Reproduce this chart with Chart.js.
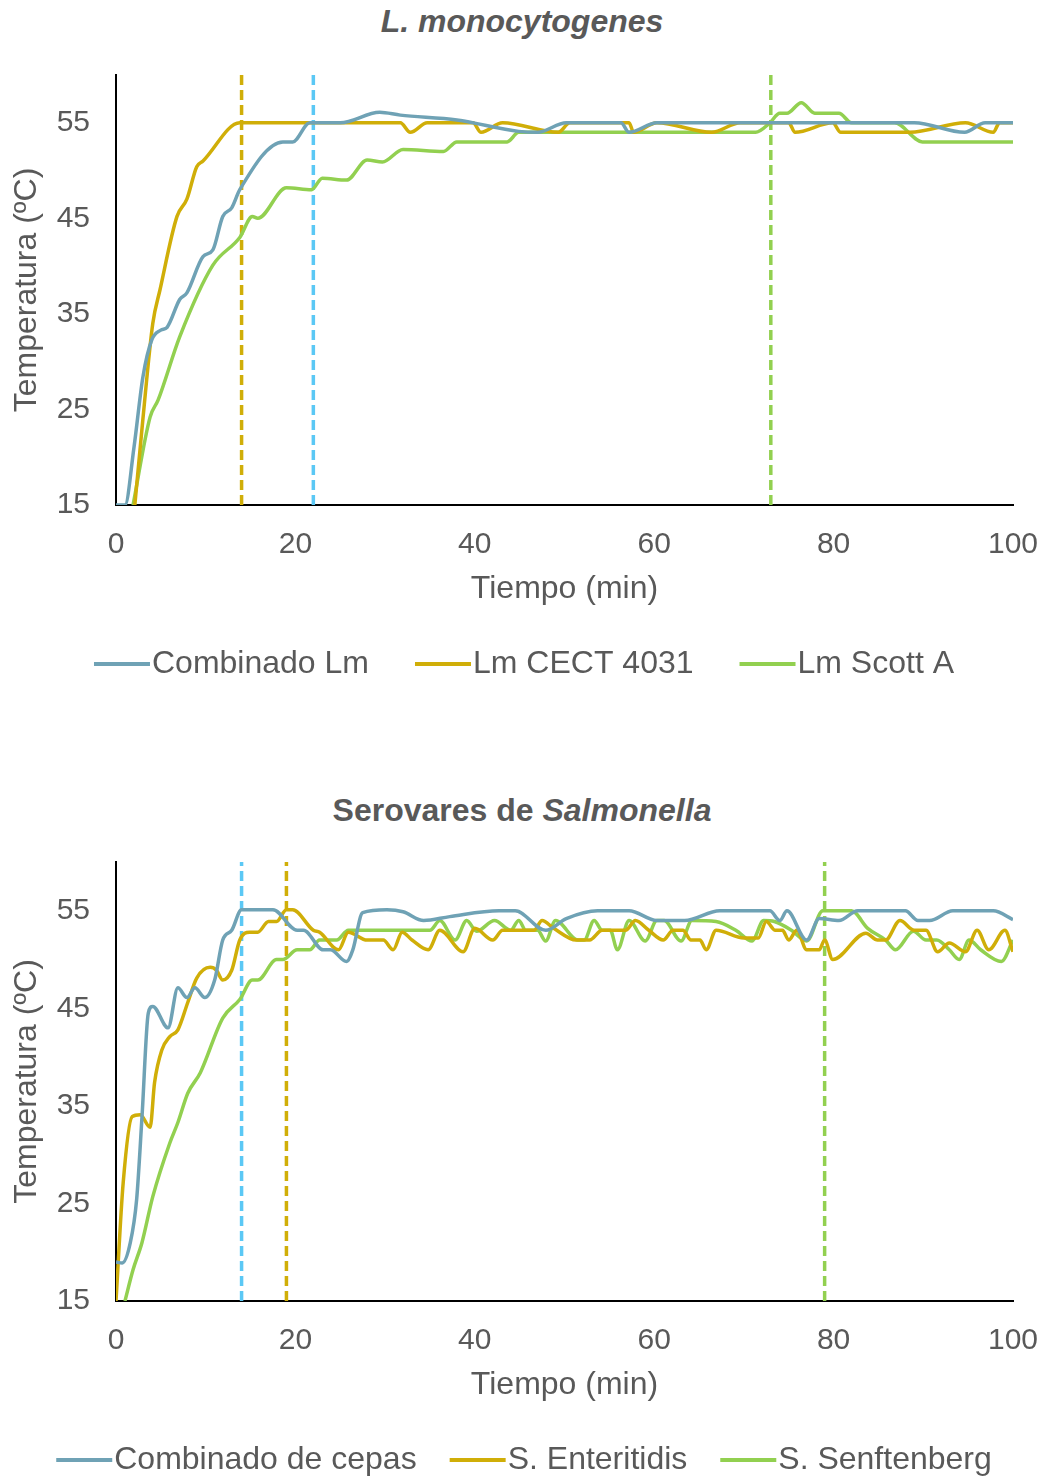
<!DOCTYPE html>
<html>
<head>
<meta charset="utf-8">
<script src="https://cdn.jsdelivr.net/npm/chart.js@4.4.1/dist/chart.umd.min.js"></script>
<style>
	body { margin:0; background:#fff; width:1044px; height:1479px; position:relative; overflow:hidden; }
	.ttl { position:absolute; left:0; width:1044px; text-align:center; font-family:"Liberation Sans", Arial, sans-serif; font-size:32px; font-weight:bold; color:#595959; }
	.box { position:absolute; left:0; width:1044px; }
</style>
</head>
<body>
<div class="ttl" style="top:3px;"><i>L. monocytogenes</i></div>
<div class="box" style="top:0px;height:710px;"><canvas id="chartLm"></canvas></div>
<div class="ttl" style="top:792px;">Serovares de <i>Salmonella</i></div>
<div class="box" style="top:790px;height:689px;"><canvas id="chartSal"></canvas></div>
<script>
	// tiempo (min) y temperatura (ºC)
	var xTicks = [0, 20, 40, 60, 80, 100];
	var yTicks = [15, 25, 35, 45, 55];

	// L. monocytogenes
	var lmCombT = [0, 1, 2, 3, 4, 5, 5.7, 7.1, 7.9, 9.7, 10.8, 11.9, 12.9, 13.8, 18.6, 19.7, 21.6, 25, 29.4, 31.7, 38, 44.9, 47, 50.2, 56.3, 57.2, 60.3, 89, 94.6, 96.9, 100];
	var lmCombV = [15, 15, 21, 28.4, 32.3, 33.3, 33.6, 36.5, 37.2, 41, 41.7, 45.2, 46.1, 48, 53, 53, 55, 55, 56.1, 55.8, 55.3, 54.1, 54, 55, 55, 54, 55, 55, 54, 55, 55];

	var lmCectT = [2.1, 3, 4.1, 4.9, 6.8, 7.9, 9, 9.7, 13.8, 31.7, 32.8, 34.7, 39.8, 40.7, 43.1, 49.3, 50.6, 57.2, 57.7, 60.3, 66.4, 69.6, 75, 75.7, 79.9, 80.8, 88.5, 94.7, 97.8, 98.5, 100];
	var lmCectV = [15, 24, 34, 37.5, 45.2, 47, 50.4, 51, 55, 55, 54, 55, 55, 54, 55, 54, 55, 55, 54, 55, 54, 55, 55, 54, 55, 54, 54, 55, 54, 55, 55];

	var lmScottT = [1.9, 3.8, 4.7, 7.1, 10.8, 13.8, 15.2, 15.8, 19, 21.8, 23, 25.7, 28, 29.7, 32, 36.5, 38, 43.6, 44.9, 71.3, 72.9, 74, 74.8, 76.4, 77.9, 80.6, 82, 86.8, 89.9, 100];
	var lmScottV = [15, 24.2, 26, 32.6, 40.1, 43, 45.2, 45, 48.2, 48, 49.2, 49, 51.1, 50.9, 52.2, 52, 53, 53, 54, 54, 55, 56, 56, 57.1, 56, 56, 55, 55, 53, 53];

	var lmMarks = [14, 22, 73];

	// Serovares de Salmonella
	var salCombT = [0, 0.7, 1.6, 2.3, 2.9, 3.6, 4.1, 5.8, 6.9, 7.9, 8.8, 9.9, 11, 11.9, 12.9, 14, 17.5, 20.2, 20.9, 23.1, 23.9, 25.7, 26.4, 27.5, 30.2, 32, 34.3, 37.2, 42.7, 44.5, 47.9, 50.2, 53.7, 57.2, 60.3, 63.4, 67.3, 72.9, 74, 74.8, 77, 78.4, 80.6, 82.7, 88, 89.4, 90.7, 93.3, 97.8, 100];
	var salCombV = [19, 18.9, 21, 25.4, 33.9, 44.5, 45.2, 43, 47.1, 46.1, 47.1, 46.1, 47.9, 52, 53, 55.1, 55.1, 53, 53, 51, 51, 49.8, 51, 54.8, 55.1, 54.9, 54, 54.4, 55, 55, 53, 54.2, 55, 55, 54, 54, 55, 55, 54, 55, 52, 54.2, 54, 55, 55, 54, 54, 55, 55, 54.1];

	var salEntT = [0, 0.8, 1.8, 2.7, 3.8, 4.3, 5.1, 6, 6.9, 8, 9, 10.5, 11.2, 11.9, 12.9, 13.8, 14.9, 15.8, 17, 17.9, 19, 19.7, 22, 22.7, 24.8, 25.9, 28, 29.8, 30.9, 31.9, 33, 34.8, 36.1, 38.7, 40, 42, 43.1, 46.6, 47.5, 48.8, 51.3, 52.8, 54.2, 56.8, 57.9, 59.4, 61, 62.1, 63.2, 64.1, 65.1, 65.8, 66.9, 70, 71.6, 72.5, 73.5, 74.3, 75, 75.9, 77, 78.4, 79, 79.9, 83.6, 84.9, 85.8, 87.4, 89, 90.3, 91.6, 92.9, 94.7, 96, 97.3, 99.1, 100];
	var salEntV = [15, 27.1, 33.9, 34.1, 32.8, 37.4, 40.7, 42.1, 42.8, 45.6, 48.1, 49.2, 48.9, 47.9, 48.9, 52, 52.8, 52.8, 53.9, 53.9, 55.1, 55.1, 53, 52.8, 51, 52.8, 52, 52, 51, 52.8, 52, 51, 53, 50.8, 53.2, 52, 53, 53, 54, 53.2, 52, 52, 53, 53, 54, 53, 52, 53, 53, 52, 52, 51, 53, 52.2, 52.2, 53.9, 53, 53, 52, 53, 51, 51, 52, 50, 52.7, 52, 52, 54, 53, 53, 50.8, 51.7, 50.8, 53, 51, 53, 50.8];

	var salSenfT = [1, 1.9, 2.9, 4.1, 6, 6.9, 8, 9.4, 11.9, 13.8, 15.2, 15.8, 17.9, 18.6, 20.2, 21.6, 22.7, 24.6, 25.9, 35, 36.1, 37.8, 39.1, 40.2, 42.2, 44, 44.9, 45.7, 47, 47.9, 49, 51.5, 52.2, 53.3, 54.2, 55.1, 55.9, 57.2, 59, 60.3, 61.1, 63, 64.2, 66.9, 69.1, 70.9, 72.2, 73.4, 75.3, 77, 78.8, 82, 83.8, 85.8, 86.9, 88.9, 90.3, 91.5, 92.9, 94, 95.1, 96.4, 98.7, 100];
	var salSenfV = [15, 18.2, 21, 25.7, 31.2, 33.3, 36.3, 38.4, 44, 45.9, 47.9, 47.9, 50, 50, 51, 51, 52, 52, 53, 53, 54, 52, 54, 52.9, 54, 53, 54, 53, 53, 51.9, 54, 52, 52, 54, 53, 53, 51, 54, 51.9, 54, 54, 51.9, 54, 53.9, 53, 51.9, 54, 53.9, 53, 51.9, 55, 55, 53.2, 52, 51, 52.9, 52, 52, 51, 50, 52, 51, 49.8, 52];

	var salMarks = [14, 19, 79];

	var cBlue = '#6FA2B5', cGold = '#D0AE08', cGreen = '#92D050', cCyan = '#5BC8F5';
	var txtColor = '#595959';
	var fontFam = '"Liberation Sans", Arial, sans-serif';

	function pts(t, v) {
		return t.map(function(x, i) { return {x: x, y: v[i]}; });
	}
	function serie(label, t, v, color) {
		return {
			label: label, data: pts(t, v),
			borderColor: color, backgroundColor: color,
			borderWidth: 3.5, pointRadius: 0, cubicInterpolationMode: 'monotone', fill: false
		};
	}
	function marca(t, color) {
		return {
			label: '', data: [{x: t, y: yTicks[0]}, {x: t, y: 60}],
			borderColor: color, backgroundColor: color, borderWidth: 3.5,
			borderDash: [10, 5], pointRadius: 0, tension: 0, fill: false, isMark: true
		};
	}

	// leyenda dibujada a mano: linea corta pegada al texto, como en Excel
	var leyenda = {
		id: 'leyenda',
		afterDraw: function(chart, args, opts) {
			var ctx = chart.ctx;
			var items = chart.data.datasets.filter(function(d) { return !d.isMark; });
			ctx.save();
			ctx.font = '32px ' + fontFam;
			var lineW = 56, gapTxt = 2, gap = opts.gap;
			var total = 0;
			items.forEach(function(d, i) {
				total += lineW + gapTxt + ctx.measureText(d.label).width + (i > 0 ? gap : 0);
			});
			var x = (chart.width - total) / 2 + 2;
			var y = chart.chartArea.bottom + 159;
			ctx.textBaseline = 'middle';
			items.forEach(function(d) {
				ctx.strokeStyle = d.borderColor;
				ctx.lineWidth = 4;
				ctx.beginPath();
				ctx.moveTo(x, y);
				ctx.lineTo(x + lineW, y);
				ctx.stroke();
				x += lineW + gapTxt;
				ctx.fillStyle = txtColor;
				ctx.fillText(d.label, x, y);
				x += ctx.measureText(d.label).width + gap;
			});
			ctx.restore();
		}
	};

	function opciones(padTop, padBottom, gap) {
		return {
			responsive: true, maintainAspectRatio: false, animation: false,
			layout: { padding: { top: padTop, left: 0, right: 31, bottom: padBottom } },
			plugins: {
				legend: { display: false },
				tooltip: { enabled: false },
				leyenda: { gap: gap }
			},
			scales: {
				x: {
					type: 'linear', min: 0, max: 100,
					afterBuildTicks: function(s) { s.ticks = xTicks.map(function(v) { return {value: v}; }); },
					afterFit: function(s) { s.height = 103; s.paddingRight = 0; s.paddingLeft = 0; },
					grid: { display: false, drawTicks: false },
					border: { color: '#000', width: 2 },
					ticks: { color: txtColor, font: { family: fontFam, size: 30 }, padding: 22, maxRotation: 0 },
					title: { display: true, text: 'Tiempo (min)', color: txtColor, font: { family: fontFam, size: 32 }, padding: 0 }
				},
				y: {
					min: 15, max: 60,
					afterBuildTicks: function(s) { s.ticks = yTicks.map(function(v) { return {value: v}; }); },
					afterFit: function(s) { s.width = 116; },
					grid: { display: false, drawTicks: false },
					border: { color: '#000', width: 2 },
					ticks: { color: txtColor, font: { family: fontFam, size: 30 }, padding: 26 },
					title: { display: true, text: 'Temperatura (ºC)', color: txtColor, font: { family: fontFam, size: 32 }, padding: { top: 8, bottom: 0 } }
				}
			}
		};
	}

	new Chart(document.getElementById('chartLm').getContext('2d'), {
		type: 'line',
		data: {
			datasets: [
				serie('Combinado Lm', lmCombT, lmCombV, cBlue),
				serie('Lm CECT 4031', lmCectT, lmCectV, cGold),
				serie('Lm Scott A', lmScottT, lmScottV, cGreen),
				marca(lmMarks[0], cGold),
				marca(lmMarks[1], cCyan),
				marca(lmMarks[2], cGreen)
			]
		},
		options: opciones(75, 102, 46),
		plugins: [leyenda]
	});

	new Chart(document.getElementById('chartSal').getContext('2d'), {
		type: 'line',
		data: {
			datasets: [
				serie('Combinado de cepas', salCombT, salCombV, cBlue),
				serie('S. Enteritidis', salEntT, salEntV, cGold),
				serie('S. Senftenberg', salSenfT, salSenfV, cGreen),
				marca(salMarks[0], cCyan),
				marca(salMarks[1], cGold),
				marca(salMarks[2], cGreen)
			]
		},
		options: opciones(72, 75, 33),
		plugins: [leyenda]
	});
</script>
</body>
</html>
